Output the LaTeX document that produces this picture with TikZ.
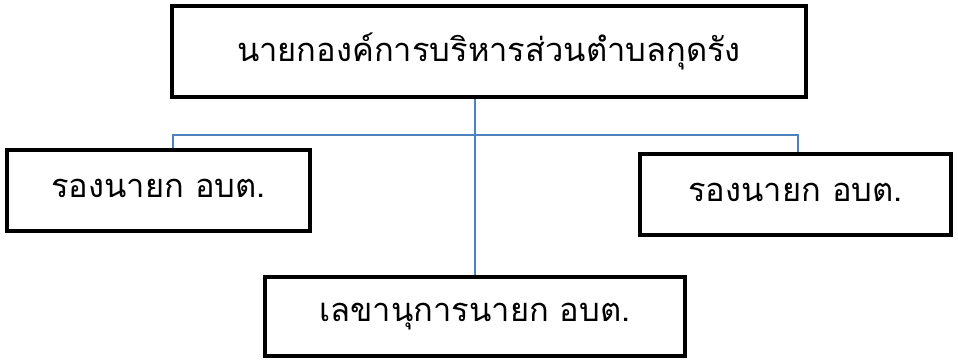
\documentclass[tikz,border=0pt]{standalone}
\usepackage{fontspec}
\usetikzlibrary{backgrounds}
\newfontfamily\thaifont[Script=Thai]{Loma}
\definecolor{connblue}{HTML}{4F81BD}
\begin{document}
\begin{tikzpicture}[x=0.75pt,y=-0.75pt,
  orgbox/.style={draw=black,line width=3.2pt,rectangle,inner sep=0pt,fill=white,
    font=\thaifont\fontsize{24.5pt}{29pt}\selectfont},
  conn/.style={draw=connblue,line width=1.1pt}]
\useasboundingbox (0,0) rectangle (958,363);
\coordinate (trunk) at (475,135);
\coordinate (hl) at (173,135);
\coordinate (hr) at (798,135);
\node[orgbox,minimum width=634*0.75pt,minimum height=91*0.75pt] (top) at (489,51.5) {\raisebox{4pt}{นายกองค์การบริหารส่วนตำบลกุดรัง}};
\node[orgbox,minimum width=303*0.75pt,minimum height=81*0.75pt] (left) at (158.5,190.5) {\raisebox{3pt}{รองนายก อบต.}};
\node[orgbox,minimum width=311*0.75pt,minimum height=81*0.75pt] (right) at (795.5,194.5) {\raisebox{3pt}{รองนายก อบต.}};
\node[orgbox,minimum width=420*0.75pt,minimum height=79*0.75pt] (bottom) at (475,316.5) {\raisebox{3pt}{เลขานุการนายก อบต.}};
\begin{scope}[on background layer]
\draw[conn] (top.south -| trunk) -- (bottom.north -| trunk);
\draw[conn] (left.north -| hl) -- (hl) -- (hr) -- (right.north -| hr);
\end{scope}
\end{tikzpicture}
\end{document}
